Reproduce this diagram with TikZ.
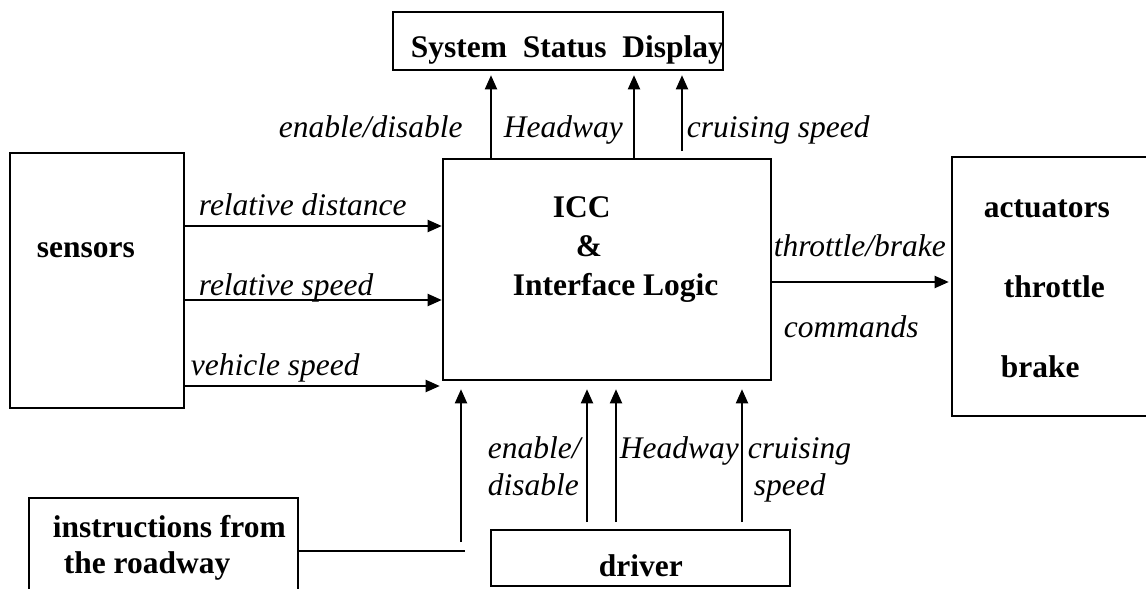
\documentclass[tikz,border=0pt]{standalone}
\usepackage{fontspec}
\setmainfont{Liberation Serif}
\usetikzlibrary{arrows.meta}

\tikzset{every picture/.style={line width=1.4pt}}
\tikzset{
  blk/.style={draw, line width=1.9pt, inner sep=0pt},
  lbl/.style={anchor=base west, inner sep=0pt, font=\fontsize{23.6}{28}\selectfont\itshape},
  ttl/.style={anchor=base west, inner sep=0pt, font=\fontsize{23.6}{28}\selectfont\bfseries},
  arr/.style={-{Triangle[length=10.5pt,width=9pt]}}
}

\begin{document}
\begin{tikzpicture}[x=0.75pt,y=0.75pt,yscale=-1,xscale=1]
    \useasboundingbox (0,0) rectangle (1146,589);

    %Blocks
    \node [blk, minimum width=247.5pt, minimum height=43.5pt] (ssd) at (558,41) {};
    \node [blk, minimum width=130.5pt, minimum height=191.25pt] (sen) at (97,280.5) {};
    \node [blk, minimum width=246pt, minimum height=165.75pt] (icc) at (607,269.5) {};
    \node [blk, minimum width=148.5pt, minimum height=194.25pt] (act) at (1051,286.5) {};
    \node [blk, minimum width=201.75pt, minimum height=76.5pt] (road) at (163.5,549) {};
    \node [blk, minimum width=224.25pt, minimum height=42pt] (drv) at (640.5,558) {};

    %Helper coordinates
    \coordinate (ydist) at (0,226);
    \coordinate (yrspd) at (0,300);
    \coordinate (yvspd) at (0,386);
    \coordinate (ycmd) at (0,282);
    \coordinate (xena) at (491,0);
    \coordinate (xhdw) at (634,0);
    \coordinate (xcrs) at (682,0);
    \coordinate (xdena) at (587,0);
    \coordinate (xdhdw) at (616,0);
    \coordinate (xdcrs) at (742,0);
    \coordinate (roadend) at (465,551);
    \coordinate (roadup) at (461,542);

    %Straight Lines: sensors -> ICC
    \draw [arr] (sen.east |- ydist) -- (icc.west |- ydist);
    \draw [arr] (sen.east |- yrspd) -- (icc.west |- yrspd);
    \draw [arr, shorten >=1.5pt] (sen.east |- yvspd) -- (icc.west |- yvspd);
    %Straight Lines: ICC -> actuators
    \draw [arr, shorten >=1.5pt] (icc.east |- ycmd) -- (act.west |- ycmd);
    %Straight Lines: ICC -> display
    \draw [arr, shorten >=3pt] (icc.north -| xena) -- (ssd.south -| xena);
    \draw [arr, shorten >=3pt] (icc.north -| xhdw) -- (ssd.south -| xhdw);
    \draw [arr, shorten <=5pt, shorten >=3pt] (icc.north -| xcrs) -- (ssd.south -| xcrs);
    %Straight Lines: driver -> ICC
    \draw [arr, shorten <=5pt, shorten >=6pt] (drv.north -| xdena) -- (icc.south -| xdena);
    \draw [arr, shorten <=5pt, shorten >=6pt] (drv.north -| xdhdw) -- (icc.south -| xdhdw);
    \draw [arr, shorten <=5pt, shorten >=6pt] (drv.north -| xdcrs) -- (icc.south -| xdcrs);
    %Straight Lines: roadway -> ICC
    \draw (road.east |- roadend) -- (roadend);
    \draw [arr, shorten >=6pt] (roadup) -- (icc.south -| roadup);

    % Text Node
    \node [ttl] (tssd) at (410,57) {System\ \ Status\ \ Display};
    \node [ttl] (tsen) at (36,257) {sensors};
    \node [ttl] (ticc) at (552,217) {ICC};
    \node [ttl] (tamp) at (575,256) {\&};
    \node [ttl] (tlog) at (512,295) {Interface Logic};
    \node [ttl] (tact) at (983,217) {actuators};
    \node [ttl] (tthr) at (1003,297) {throttle};
    \node [ttl] (tbrk) at (1000,377) {brake};
    \node [ttl] (trd1) at (52,537) {instructions from};
    \node [ttl] (trd2) at (63,573) {the roadway};
    \node [ttl] (tdrv) at (598,576) {driver};
    % Text Node
    \node [lbl] (ldist) at (198,215) {relative distance};
    \node [lbl] (lrspd) at (198,295) {relative speed};
    \node [lbl] (lvspd) at (190,375) {vehicle speed};
    \node [lbl] (lcmd1) at (773,256) {throttle/brake};
    \node [lbl] (lcmd2) at (783,337) {commands};
    \node [lbl] (lena) at (278,137) {enable/disable};
    \node [lbl] (lhdw) at (503,137) {Headway};
    \node [lbl] (lcrs) at (686,137) {cruising speed};
    \node [lbl] (ldena1) at (487,458) {enable/};
    \node [lbl] (ldena2) at (487,495) {disable};
    \node [lbl] (ldhdw) at (619,458) {Headway};
    \node [lbl] (ldcrs1) at (747,458) {cruising};
    \node [lbl] (ldcrs2) at (753,495) {speed};

\end{tikzpicture}
\end{document}
